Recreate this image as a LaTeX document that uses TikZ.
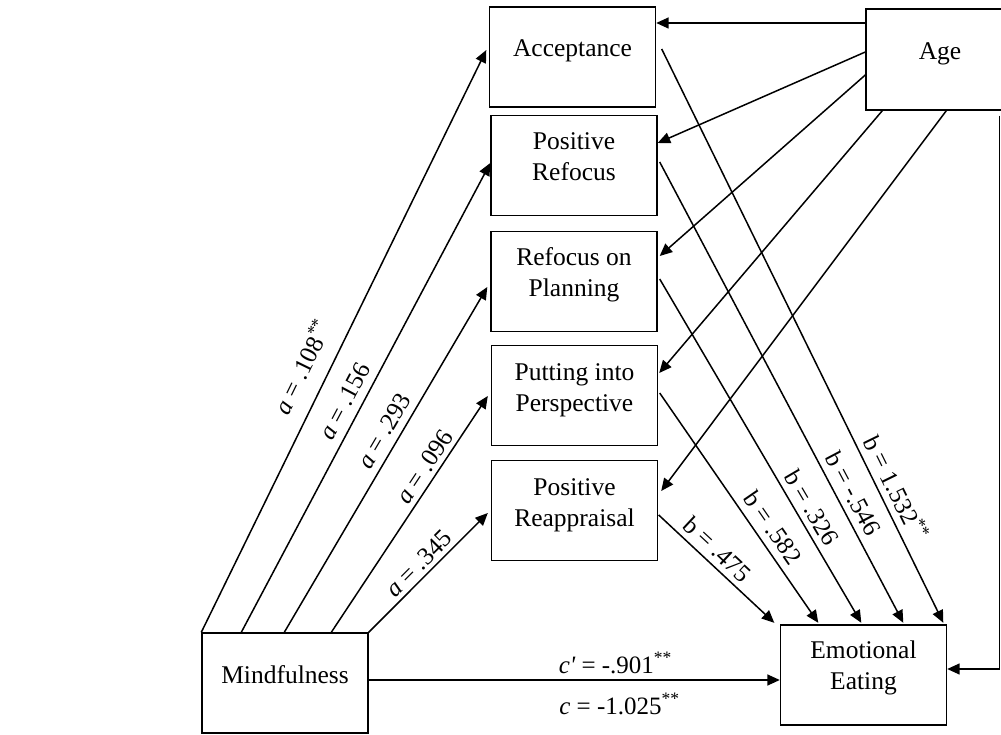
\documentclass[tikz,border=0pt]{standalone}
\usepackage{fontspec}
\setmainfont{Liberation Serif}
\usetikzlibrary{arrows.meta}
\begin{document}
\begin{tikzpicture}[x=1pt,y=-1pt,
  box/.style={draw, line width=1.4pt, minimum width=166pt, minimum height=100pt, inner sep=0pt},
  txt/.style={font=\fontsize{25.5}{31}\selectfont, align=center, inner sep=0pt},
  lbl/.style={font=\fontsize{25}{30}\selectfont, inner sep=0pt},
  arr/.style={line width=1.5pt, -{Triangle[length=12.5pt,width=11pt]}}
  ]
\useasboundingbox (0,0) rectangle (1001,735);
\fill[white] (0,0) rectangle (1001,735);

% boxes
\node[box] (acc) at (572.5,57) {};
\node[box] (posref) at (574,165.5) {};
\node[box] (plan) at (574,281.5) {};
\node[box] (persp) at (574.5,395.5) {};
\node[box] (reapp) at (574.5,510.5) {};
\node[box] (mind) at (285,683) {};
\node[box] (ee) at (863.5,675) {};
\node[box, minimum width=148pt, minimum height=101pt] (age) at (940,59.5) {};

% texts
\node[txt] (accT) at ([yshift=6.2pt]acc.center) {\strut Acceptance};
\node[txt] (posrefT) at ([yshift=6.2pt]posref.center) {\strut Positive\\Refocus\strut};
\node[txt] (planT) at ([yshift=6.2pt]plan.center) {\strut Refocus on\\Planning\strut};
\node[txt] (perspT) at ([yshift=6.2pt]persp.center) {\strut Putting into\\Perspective\strut};
\node[txt] (reappT) at ([yshift=6.2pt]reapp.center) {\strut Positive\\Reappraisal\strut};
\node[txt] (mindT) at ([yshift=6.2pt]mind.center) {\strut Mindfulness};
\node[txt] (eeT) at ([yshift=7.5pt]ee.center) {\strut Emotional\\Eating\strut};
\node[txt] (ageT) at ([yshift=6.2pt]age.center) {\strut Age};

% a paths
\draw[arr] (mind.north west) -- ([xshift=-2.5pt,yshift=7pt]acc.west)
  node[lbl, pos=0.436, sloped, yshift=27pt] {\textit{a} = .108\textsuperscript{**}};
\draw[arr] ([xshift=40pt]mind.north west) -- ([yshift=2.5pt]posref.west)
  node[lbl, pos=0.475, sloped, yshift=17pt] {\textit{a} = .156};
\draw[arr] ([xshift=83pt]mind.north west) -- ([xshift=-3pt,yshift=-5.5pt]plan.west)
  node[lbl, pos=0.56, sloped, yshift=16pt] {\textit{a} = .293};
\draw[arr] ([xshift=130pt]mind.north west) -- ([xshift=-3pt,yshift=-0.5pt]persp.west)
  node[lbl, pos=0.669, sloped, yshift=13.6pt] {\textit{a} = .096};
\draw[arr] (mind.north east) -- ([xshift=-3pt,yshift=-2.5pt]reapp.west)
  node[lbl, pos=0.498, sloped, yshift=13.1pt] {\textit{a} = .345};

% b paths
\draw[arr] ([xshift=5.5pt,yshift=8pt]acc.east) -- ([xshift=163.5pt,yshift=1.5pt]ee.north west)
  node[lbl, pos=0.778, sloped, yshift=17.8pt] {b = 1.532\textsuperscript{**}};
\draw[arr] ([xshift=2pt,yshift=3.5pt]posref.east) -- ([xshift=123.5pt,yshift=1.5pt]ee.north west)
  node[lbl, pos=0.736, sloped, yshift=16.5pt] {b = -.546};
\draw[arr] ([xshift=2pt,yshift=2.5pt]plan.east) -- ([xshift=81.5pt,yshift=1.5pt]ee.north west)
  node[lbl, pos=0.688, sloped, yshift=15.5pt] {b = .326};
\draw[arr] ([xshift=1.5pt,yshift=2.5pt]persp.east) -- ([xshift=38.5pt,yshift=1.5pt]ee.north west)
  node[lbl, pos=0.627, sloped, yshift=16.7pt] {b = .582};
\draw[arr] ([xshift=0.5pt,yshift=-4.5pt]reapp.east) -- ([xshift=-5.5pt,yshift=1.5pt]ee.north west)
  node[lbl, pos=0.42, sloped, yshift=15.1pt] {b = .475};

% c path
\draw[arr] ([yshift=3pt]mind.east) -- ([yshift=3pt]mind.east -| ee.west)
  node[lbl, pos=0.6, anchor=base, yshift=7pt] {{\itshape c\textquotesingle} = -.901\textsuperscript{**}}
  node[lbl, pos=0.61, anchor=base, yshift=-34pt] {\textit{c} = -1.025\textsuperscript{**}};

% age paths
\draw[arr] ([yshift=36.5pt]age.west) -- ([yshift=36.5pt]age.west -| acc.east);
\draw[arr] ([yshift=7.5pt]age.west) -- ([yshift=22.5pt]posref.east);
\draw[arr] ([yshift=-15.5pt]age.west) -- ([xshift=2pt,yshift=25.5pt]plan.east);
\draw[arr] ([xshift=17pt]age.south west) -- ([xshift=1pt,yshift=22.5pt]persp.east);
\draw[arr] ([xshift=81pt]age.south west) -- ([xshift=3pt,yshift=19.5pt]reapp.east);
\draw[arr] ([xshift=-15pt,yshift=-5pt]age.south east) |- ([yshift=6pt]ee.east);
\end{tikzpicture}
\end{document}
